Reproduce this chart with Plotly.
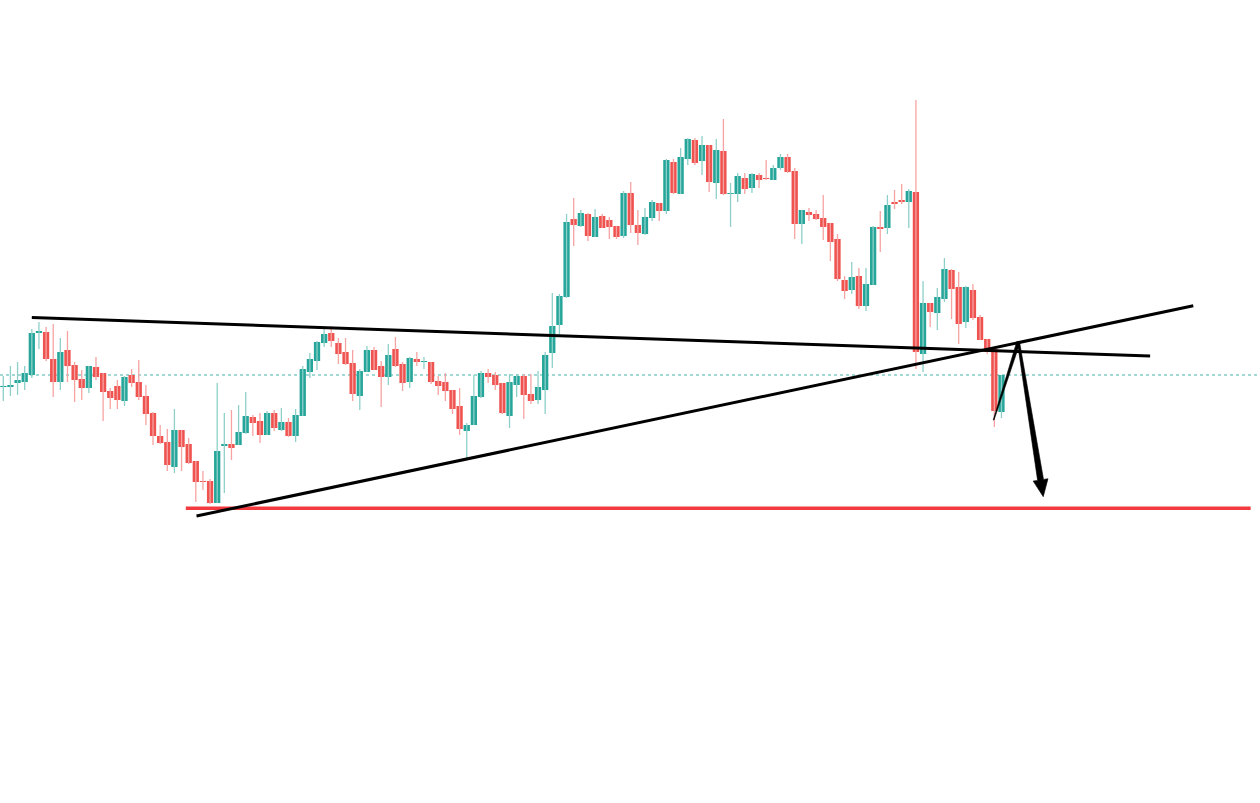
import math
import plotly.graph_objects as go

# OHLC values (arbitrary price units)
opens = [613,613,617,618,625,667,668,641,618,650,635,621,612,633,627,609,614,599,625,618,
         604,587,564,558,533,570,556,539,519,519,497,554,556,555,567,583,579,565,587,570,
         578,564,584,628,639,657,667,657,648,637,604,628,650,634,623,651,636,618,641,638,
         638,619,618,610,594,569,575,603,627,625,617,584,615,624,606,600,610,647,675,703,
         781,774,786,763,784,780,774,764,807,775,766,782,797,789,838,806,841,860,839,855,
         817,849,806,806,822,812,825,822,820,832,843,829,776,788,786,782,777,761,720,710,
         724,694,715,773,772,798,800,798,808,646,697,687,701,730,713,678,710,683,661,651,
         588]
highs = [624,634,638,634,671,678,673,676,662,669,638,630,634,643,627,612,620,624,631,640,
         615,588,575,571,591,570,562,539,529,521,617,587,590,595,608,585,587,589,590,592,
         582,591,634,647,659,672,674,662,662,650,631,654,653,639,656,663,638,643,648,643,
         638,624,627,610,612,577,625,629,631,628,617,626,626,626,626,629,648,707,706,786,
         802,790,787,791,786,783,774,809,818,790,792,800,797,841,841,852,862,862,864,855,
         861,881,817,827,827,827,827,840,835,846,846,832,790,792,790,805,777,766,724,738,
         732,732,774,789,805,810,816,811,900,719,697,712,742,731,728,714,716,685,661,651,
         625]
lows = [599,604,605,610,622,651,639,603,610,618,598,600,607,620,579,591,591,594,613,600,
        575,555,556,529,527,529,536,498,510,496,497,507,540,555,566,564,557,565,569,569,
        563,558,584,622,630,653,653,636,635,599,590,628,630,593,615,633,609,612,634,631,
        616,605,599,586,565,541,575,602,617,610,586,572,603,581,596,596,586,632,663,702,
        754,773,759,763,772,761,761,762,767,755,765,779,779,786,806,806,835,835,825,808,
        801,805,773,798,806,807,812,820,820,830,827,761,756,779,780,760,739,719,701,706,
        691,689,715,748,766,791,796,772,631,628,673,670,698,681,656,672,680,660,646,573,
        582]
closes = [614,615,620,627,667,669,641,618,648,634,620,612,634,623,608,602,600,623,617,603,
          586,564,557,535,570,553,537,518,518,497,549,556,552,568,584,577,565,587,572,578,
          564,585,631,641,658,666,659,646,636,606,629,650,630,623,645,634,617,642,638,639,
          618,614,609,591,571,575,604,627,623,615,587,618,624,605,599,613,645,674,704,778,
          775,787,764,783,772,773,763,807,775,767,783,798,789,840,807,843,861,837,855,818,
          850,806,807,824,811,826,820,821,832,843,828,776,790,785,781,773,758,721,709,723,
          694,716,773,771,795,796,798,809,648,697,688,703,731,711,676,713,682,660,648,589,
          625]

# Trend-line drawings in (bar index, price)
resistance_line = [(4.0, 682.5), (160.85, 644.0)]
support_line = [(27.1, 484.0), (166.9, 694.3)]
target_level = [(25.6, 491.7), (174.95, 491.7)]
pullback_leg = [(138.9, 580.0), (142.38, 658.0)]
forecast_arrow = [(142.38, 658.0), (145.86, 503.3)]
last_price = closes[-1]

UP = "#26a69a"
DOWN = "#ef5350"
UP_WICK = "#8ed0c9"
DOWN_WICK = "#f6a3a2"

X_RANGE = [-0.463, 176.26]
Y_RANGE = [197, 1000]
W, H = 1260, 803
SX = W / (X_RANGE[1] - X_RANGE[0])   # px per bar
SY = H / (Y_RANGE[1] - Y_RANGE[0])   # px per price unit

n = len(opens)
idx = list(range(n))

fig = go.Figure()

# wicks
for up, col in ((True, UP_WICK), (False, DOWN_WICK)):
    xs, ys = [], []
    for i in idx:
        if (closes[i] >= opens[i]) == up:
            xs += [i, i, None]
            ys += [lows[i], highs[i], None]
    fig.add_trace(go.Scatter(x=xs, y=ys, mode="lines",
                             line=dict(color=col, width=1.3),
                             hoverinfo="skip", showlegend=False))

# bodies
fig.add_trace(go.Candlestick(
    x=idx, open=opens, high=[max(o, c) for o, c in zip(opens, closes)],
    low=[min(o, c) for o, c in zip(opens, closes)], close=closes,
    increasing=dict(line=dict(color=UP, width=0), fillcolor=UP),
    decreasing=dict(line=dict(color=DOWN, width=0), fillcolor=DOWN),
    whiskerwidth=0, showlegend=False))

# last price dotted line
fig.add_shape(type="line", xref="paper", x0=0, x1=1, y0=last_price, y1=last_price,
              line=dict(color="rgba(38,166,154,0.85)", width=1, dash="dot"), layer="below")


def seg(pts, color, width):
    (x0, y0), (x1, y1) = pts
    fig.add_shape(type="line", x0=x0, y0=y0, x1=x1, y1=y1,
                  line=dict(color=color, width=width), layer="above")


def tapered(pts, w_start, w_end, head_w=0.0, head_len=0.0):
    """Brush-like tapered stroke (optionally with arrow head) between two data points."""
    (x0, y0), (x1, y1) = pts
    px0, py0, px1, py1 = x0 * SX, y0 * SY, x1 * SX, y1 * SY
    dx, dy = px1 - px0, py1 - py0
    L = math.hypot(dx, dy)
    ux, uy = dx / L, dy / L
    nx, ny = -uy, ux
    bx, by = px1 - ux * head_len, py1 - uy * head_len
    poly = [(px0 + nx * w_start / 2, py0 + ny * w_start / 2),
            (bx + nx * w_end / 2, by + ny * w_end / 2)]
    if head_len > 0:
        poly += [(bx + nx * head_w / 2, by + ny * head_w / 2), (px1, py1),
                 (bx - nx * head_w / 2, by - ny * head_w / 2)]
    poly += [(bx - nx * w_end / 2, by - ny * w_end / 2),
             (px0 - nx * w_start / 2, py0 - ny * w_start / 2)]
    path = "M " + " L ".join(f"{px / SX:.4f},{py / SY:.3f}" for px, py in poly) + " Z"
    fig.add_shape(type="path", path=path, fillcolor="#000000",
                  line=dict(color="#000000", width=0.6), layer="above")


seg(target_level, "#f23a3f", 3.5)
seg(resistance_line, "#000000", 3)
seg(support_line, "#000000", 3)
tapered(pullback_leg, 0.8, 3.4)
tapered(forecast_arrow, 2.2, 6.0, head_w=15, head_len=17)

fig.update_layout(
    width=W, height=H,
    margin=dict(l=0, r=0, t=0, b=0),
    paper_bgcolor="white", plot_bgcolor="white",
    boxgap=0.12, boxgroupgap=0,
    xaxis=dict(range=X_RANGE, visible=False, rangeslider=dict(visible=False),
               showgrid=False, zeroline=False),
    yaxis=dict(range=Y_RANGE, visible=False, showgrid=False, zeroline=False),
    showlegend=False,
)

fig.write_html("out.html", post_script="document.body.style.margin='0';",
               config={"displayModeBar": False})
